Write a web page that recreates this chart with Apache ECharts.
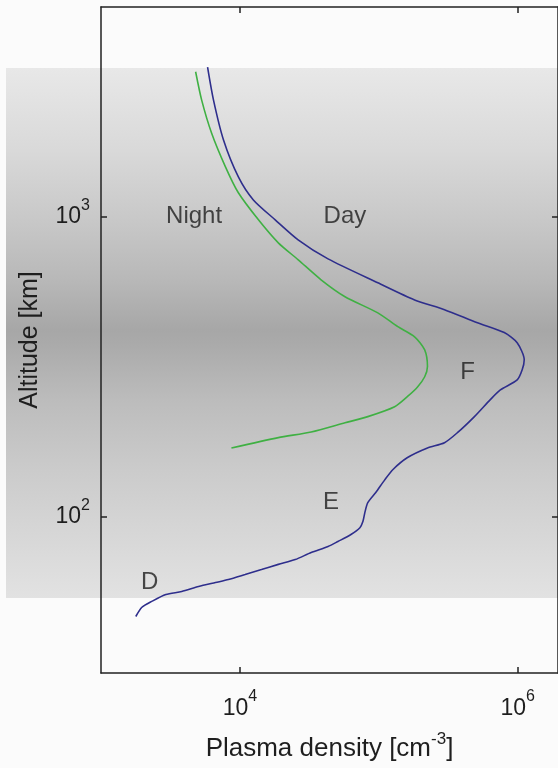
<!DOCTYPE html>
<html>
<head>
<meta charset="utf-8">
<title>Ionosphere plasma density</title>
<script src="https://cdn.jsdelivr.net/npm/echarts@6/dist/echarts.min.js"></script>
<style>
  html, body { margin: 0; padding: 0; background: #fbfbfb; }
  #chart { width: 558px; height: 768px; }
</style>
</head>
<body>
<div id="chart"></div>
<script>
// Day-time electron density profile: [density cm^-3, altitude km]
const dayDensity = [5850, 6450, 7620, 9750, 12500, 17950, 26250, 43100, 98400, 181000,
  297000, 513000, 800000, 991000, 1114000, 1077000, 991000, 750000, 635000, 488000,
  368000, 297000, 224000, 161000, 126000, 110000, 95100, 83300, 79400, 76800,
  73100, 63000, 50800, 43100, 32600, 25000, 18900, 14300, 10900, 8270,
  6670, 5040, 3810, 2930, 2320, 1970, 1780];
const dayAltitude = [3150, 2450, 1800, 1356, 1136, 975, 836, 722, 601, 527,
  489, 442, 410, 379, 333, 308, 285, 264, 245, 215,
  190, 176, 169, 157, 143, 132, 120, 111, 103, 96,
  91.6, 86.9, 82.4, 79.3, 75.7, 71.7, 69.1, 66.4, 63.9, 61.5,
  60.1, 58.3, 56.1, 54.8, 52.0, 49.7, 46.3];

// Night-time profile
const nightDensity = [4800, 5300, 6250, 7870, 9750, 13600, 18900, 26300, 38400, 57100,
  98400, 137000, 181000, 214000, 224000, 214000, 190000, 161000, 130000, 83300,
  57100, 32600, 18900, 8690];
const nightAltitude = [3040, 2450, 1900, 1465, 1200, 975, 817, 717, 615, 540,
  477, 429, 397, 359, 316, 292, 270, 251, 232, 215,
  205, 191, 183, 169];

// Region / profile annotations
const noteText = ['Night', 'Day', 'F', 'E', 'D'];
const noteDensity = [4680, 57000, 435000, 45300, 2240];
const noteAltitude = [1000, 1000, 303, 111, 60];

// Axis ranges and tick positions
const densityRange = [1000, 1950000];
const altitudeRange = [30, 5000];
const densityTicks = [1e4, 1e6];
const altitudeTicks = [1e2, 1e3];

const FONT = '"Liberation Sans", Arial, sans-serif';
const TEXT = '#1e1e1e';

function pairs(xs, ys) { return xs.map((x, i) => [x, ys[i]]); }

function powerLabel(v) {
  return '{b|10}{s|' + Math.round(Math.log10(v)) + '}';
}

const powerRich = {
  b: { fontFamily: FONT, fontSize: 23, lineHeight: 24, color: TEXT, verticalAlign: 'bottom' },
  s: { fontFamily: FONT, fontSize: 16, lineHeight: 16, color: TEXT, verticalAlign: 'bottom', padding: [0, 0, 15, 0] }
};

const axisLineStyle = { color: '#222', width: 1.5 };

const chart = echarts.init(document.getElementById('chart'), null, { renderer: 'canvas' });

chart.setOption({
  backgroundColor: '#fbfbfb',
  animation: false,
  graphic: [{
    type: 'rect',
    z: -100,
    silent: true,
    shape: { x: 6, y: 68, width: 560, height: 530 },
    style: {
      fill: new echarts.graphic.LinearGradient(0, 0, 0, 1, [
        { offset: 0, color: '#e8e8e8' },
        { offset: 0.155, color: '#d9d9d9' },
        { offset: 0.28, color: '#c9c9c9' },
        { offset: 0.40, color: '#b8b8b8' },
        { offset: 0.494, color: '#a7a7a7' },
        { offset: 0.52, color: '#aaaaaa' },
        { offset: 0.626, color: '#bcbcbc' },
        { offset: 0.758, color: '#cbcbcb' },
        { offset: 1, color: '#e2e2e2' }
      ])
    }
  }],
  grid: { left: 101, top: 7, width: 459, height: 666, containLabel: false },
  xAxis: [{
    type: 'log', logBase: 10, position: 'bottom',
    min: densityRange[0], max: densityRange[1],
    name: '{n|Plasma density [cm}{s|-3}{n|]}',
    nameLocation: 'middle', nameGap: 62,
    nameTextStyle: {
      rich: {
        n: { fontFamily: FONT, fontSize: 26, lineHeight: 27, color: TEXT, verticalAlign: 'bottom' },
        s: { fontFamily: FONT, fontSize: 17, lineHeight: 17, color: TEXT, verticalAlign: 'bottom', padding: [0, 0, 14, 0] }
      }
    },
    axisLine: { show: true, onZero: false, lineStyle: axisLineStyle },
    axisTick: { show: true, inside: true, length: 6, customValues: densityTicks, lineStyle: axisLineStyle },
    axisLabel: { show: true, margin: 23, customValues: densityTicks, formatter: powerLabel, rich: powerRich },
    splitLine: { show: false },
    minorTick: { show: false }
  }, {
    type: 'log', logBase: 10, position: 'top',
    min: densityRange[0], max: densityRange[1],
    axisLine: { show: true, onZero: false, lineStyle: axisLineStyle },
    axisTick: { show: true, inside: true, length: 6, customValues: densityTicks, lineStyle: axisLineStyle },
    axisLabel: { show: false },
    splitLine: { show: false }
  }],
  yAxis: [{
    type: 'log', logBase: 10, position: 'left',
    min: altitudeRange[0], max: altitudeRange[1],
    name: 'Altitude [km]',
    nameLocation: 'middle', nameGap: 58, nameRotate: 90,
    nameTextStyle: { fontFamily: FONT, fontSize: 25, color: TEXT },
    axisLine: { show: true, onZero: false, lineStyle: axisLineStyle },
    axisTick: { show: true, inside: true, length: 6, customValues: altitudeTicks, lineStyle: axisLineStyle },
    axisLabel: { show: true, margin: 11, customValues: altitudeTicks, formatter: powerLabel, rich: powerRich },
    splitLine: { show: false }
  }, {
    type: 'log', logBase: 10, position: 'right',
    min: altitudeRange[0], max: altitudeRange[1],
    axisLine: { show: true, onZero: false, lineStyle: axisLineStyle },
    axisTick: { show: true, inside: true, length: 6, customValues: altitudeTicks, lineStyle: axisLineStyle },
    axisLabel: { show: false },
    splitLine: { show: false }
  }],
  series: [{
    name: 'Day', type: 'line', xAxisIndex: 0, yAxisIndex: 0,
    data: pairs(dayDensity, dayAltitude),
    showSymbol: false, symbol: 'none', smooth: 0.25,
    lineStyle: { color: '#2e2e8c', width: 1.6 }
  }, {
    name: 'Night', type: 'line', xAxisIndex: 0, yAxisIndex: 0,
    data: pairs(nightDensity, nightAltitude),
    showSymbol: false, symbol: 'none', smooth: 0.25,
    lineStyle: { color: '#3fb043', width: 1.6 }
  }, {
    name: 'notes', type: 'scatter', xAxisIndex: 0, yAxisIndex: 0,
    symbolSize: 0, silent: true,
    data: noteText.map((t, i) => ({ name: t, value: [noteDensity[i], noteAltitude[i]] })),
    label: {
      show: true, position: 'inside', formatter: '{b}',
      fontFamily: FONT, fontSize: 24, color: TEXT
    }
  }]
});
</script>
</body>
</html>
